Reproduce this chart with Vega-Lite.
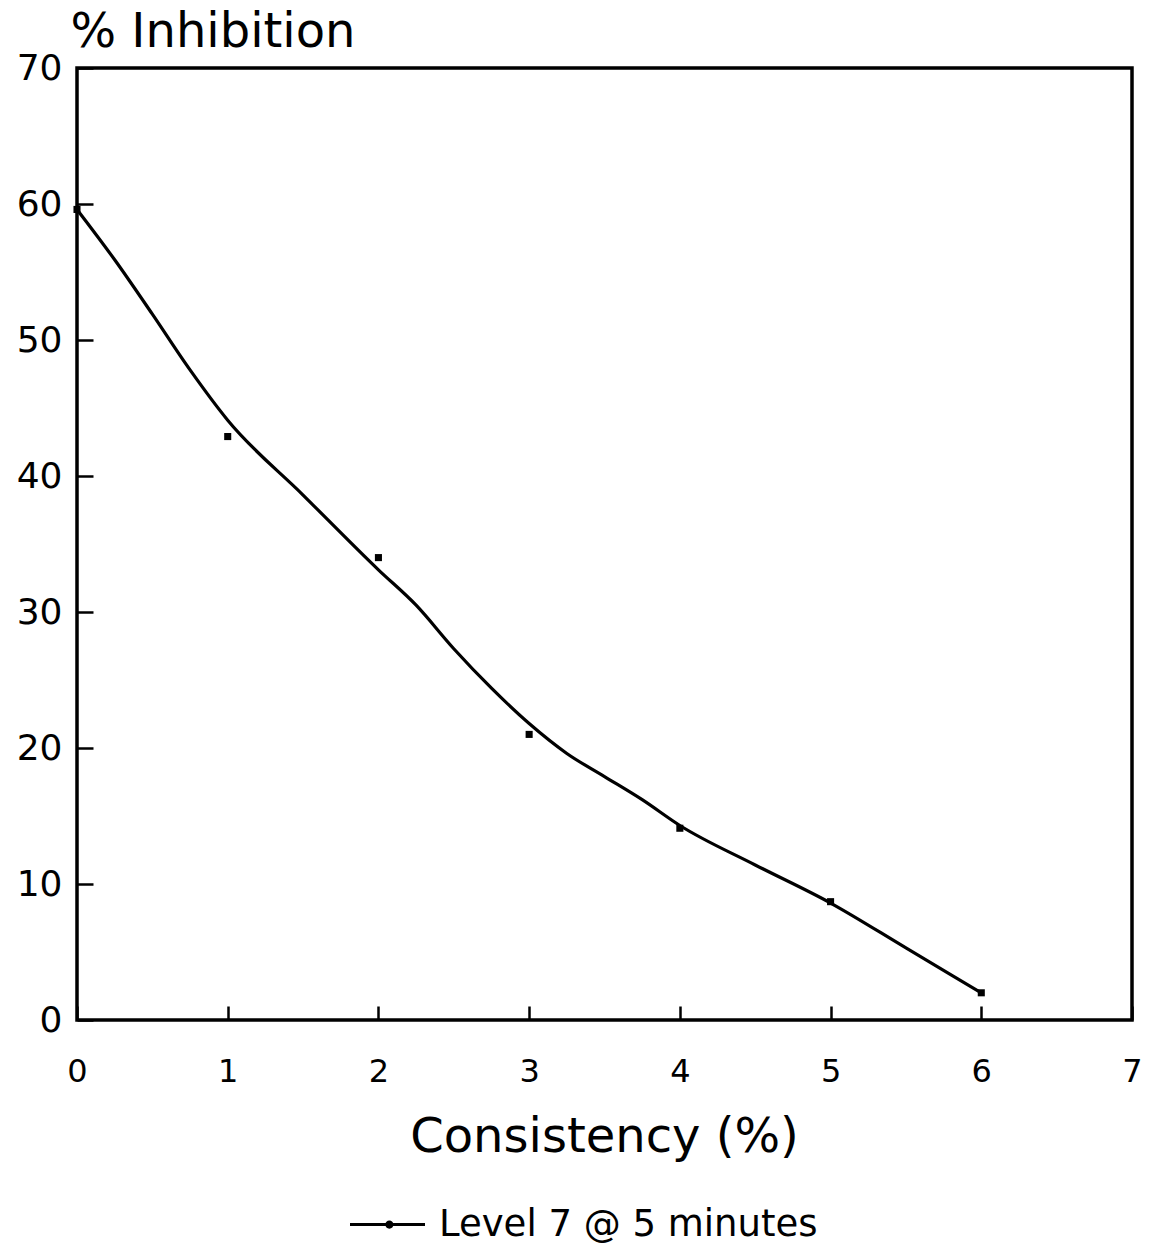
{
  "$schema": "https://vega.github.io/schema/vega-lite/v6.json",
  "width": 1055,
  "height": 952,
  "autosize": "none",
  "padding": {"left": 77, "top": 68, "right": 22, "bottom": 229},
  "background": "white",
  "config": {
    "font": "DejaVu Sans",
    "view": {"stroke": "black", "strokeWidth": 3.5},
    "axis": {"grid": false, "domain": false, "labelColor": "black", "titleColor": "black", "tickColor": "black", "labelFont": "DejaVu Sans", "titleFont": "DejaVu Sans", "titleFontWeight": "normal", "labelFlush": false}
  },
  "datasets": {
    "obs": [
      {"consistency": 0, "inhibition": 59.6},
      {"consistency": 1, "inhibition": 42.9},
      {"consistency": 2, "inhibition": 34.0},
      {"consistency": 3, "inhibition": 21.0},
      {"consistency": 4, "inhibition": 14.1},
      {"consistency": 5, "inhibition": 8.7},
      {"consistency": 6, "inhibition": 2.0}
    ],
    "fit": [
      {"consistency": 0, "inhibition": 59.6, "series": "Level 7 @ 5 minutes"},
      {"consistency": 0.25, "inhibition": 55.9, "series": "Level 7 @ 5 minutes"},
      {"consistency": 0.5, "inhibition": 51.9, "series": "Level 7 @ 5 minutes"},
      {"consistency": 0.75, "inhibition": 47.8, "series": "Level 7 @ 5 minutes"},
      {"consistency": 1.0, "inhibition": 44.1, "series": "Level 7 @ 5 minutes"},
      {"consistency": 1.5, "inhibition": 38.6, "series": "Level 7 @ 5 minutes"},
      {"consistency": 2.0, "inhibition": 33.1, "series": "Level 7 @ 5 minutes"},
      {"consistency": 2.25, "inhibition": 30.5, "series": "Level 7 @ 5 minutes"},
      {"consistency": 2.5, "inhibition": 27.3, "series": "Level 7 @ 5 minutes"},
      {"consistency": 2.75, "inhibition": 24.4, "series": "Level 7 @ 5 minutes"},
      {"consistency": 3.0, "inhibition": 21.8, "series": "Level 7 @ 5 minutes"},
      {"consistency": 3.25, "inhibition": 19.6, "series": "Level 7 @ 5 minutes"},
      {"consistency": 3.5, "inhibition": 17.9, "series": "Level 7 @ 5 minutes"},
      {"consistency": 3.75, "inhibition": 16.2, "series": "Level 7 @ 5 minutes"},
      {"consistency": 4.0, "inhibition": 14.3, "series": "Level 7 @ 5 minutes"},
      {"consistency": 4.5, "inhibition": 11.4, "series": "Level 7 @ 5 minutes"},
      {"consistency": 5.0, "inhibition": 8.6, "series": "Level 7 @ 5 minutes"},
      {"consistency": 5.5, "inhibition": 5.3, "series": "Level 7 @ 5 minutes"},
      {"consistency": 6.0, "inhibition": 2.0, "series": "Level 7 @ 5 minutes"}
    ]
  },
  "layer": [
    {
      "data": {"name": "fit"},
      "mark": {"type": "line", "interpolate": "monotone", "strokeWidth": 3.2},
      "encoding": {
        "x": {
          "field": "consistency", "type": "quantitative",
          "scale": {"domain": [0, 7], "nice": false, "zero": false},
          "axis": {
            "values": [0, 1, 2, 3, 4, 5, 6, 7], "format": "d",
            "tickSize": -14, "tickWidth": 2.5,
            "labelFontSize": 32, "labelPadding": 50, "labelBaseline": "top",
            "title": "Consistency (%)", "titleFontSize": 48,
            "titleX": 527, "titleY": 131, "titleBaseline": "alphabetic", "titleAlign": "center"
          }
        },
        "y": {
          "field": "inhibition", "type": "quantitative",
          "scale": {"domain": [0, 70], "nice": false},
          "axis": {
            "values": [0, 10, 20, 30, 40, 50, 60, 70],
            "tickSize": -16, "tickWidth": 2.5,
            "labelFontSize": 36, "labelPadding": 31,
            "title": "% Inhibition", "titleFontSize": 48, "titleAngle": 0,
            "titleAlign": "left", "titleBaseline": "alphabetic",
            "titleX": -7, "titleY": -22
          }
        },
        "stroke": {
          "field": "series", "type": "nominal",
          "scale": {"range": ["black"]},
          "legend": {
            "title": null, "orient": "none", "legendX": 273, "legendY": 1119,
            "symbolType": "M-1,-0.04H1V0.04H-1Z M0.05,-0.11A0.11,0.11 0 1,1 0.05,0.11A0.11,0.11 0 1,1 0.05,-0.11Z",
            "symbolSize": 5625, "symbolFillColor": "black", "symbolStrokeColor": "black", "symbolStrokeWidth": 0,
            "labelFontSize": 37, "labelColor": "black", "labelFont": "DejaVu Sans", "labelOffset": 14, "labelLimit": 600
          }
        }
      }
    },
    {
      "data": {"name": "obs"},
      "mark": {"type": "point", "shape": "square", "filled": true, "size": 50, "color": "black", "opacity": 1},
      "encoding": {
        "x": {"field": "consistency", "type": "quantitative"},
        "y": {"field": "inhibition", "type": "quantitative"}
      }
    }
  ]
}
